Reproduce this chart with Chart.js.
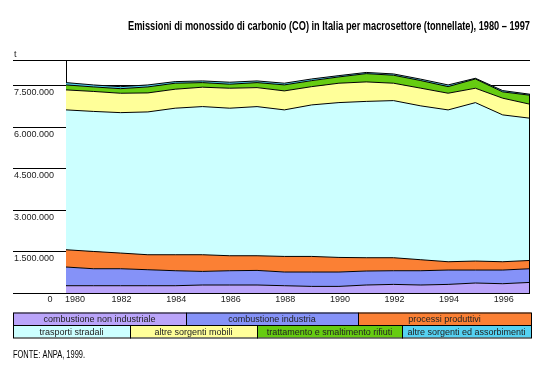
<!DOCTYPE html>
<html>
<head>
<meta charset="utf-8">
<script src="https://cdn.jsdelivr.net/npm/chart.js@4"></script>
<style>
  html, body { margin: 0; padding: 0; background: #fff; }
  #wrap { width: 552px; height: 371px; }
</style>
</head>
<body>
<div id="wrap"><canvas id="co" width="552" height="371"></canvas></div>
<script>
// dati in tonnellate
const years = ['1980', '1981', '1982', '1983', '1984', '1985', '1986', '1987', '1988',
               '1989', '1990', '1991', '1992', '1993', '1994', '1995', '1996', '1997'];
const combNonInd  = [264000, 264000, 264000, 264000, 264000, 289000, 289000, 289000, 264000, 239000, 239000, 289000, 311000, 289000, 311000, 361000, 336000, 383000];
const combInd     = [676000, 614000, 614000, 578000, 542000, 492000, 517000, 528000, 495000, 520000, 520000, 506000, 495000, 517000, 520000, 470000, 495000, 495000];
const processi    = [625000, 625000, 567000, 542000, 578000, 604000, 542000, 531000, 564000, 564000, 528000, 481000, 470000, 398000, 300000, 325000, 300000, 300000];
const trasporti   = [5060000, 5067000, 5081000, 5168000, 5302000, 5360000, 5338000, 5396000, 5302000, 5482000, 5602000, 5656000, 5685000, 5566000, 5493000, 5732000, 5313000, 5146000];
const altreMobili = [723000, 723000, 701000, 687000, 687000, 701000, 723000, 687000, 687000, 661000, 701000, 705000, 629000, 640000, 604000, 520000, 604000, 506000];
const rifiuti     = [181000, 163000, 166000, 217000, 217000, 166000, 145000, 181000, 217000, 217000, 228000, 300000, 289000, 275000, 239000, 336000, 228000, 325000];
const altreAssorb = [83000, 72000, 72000, 72000, 58000, 61000, 72000, 61000, 61000, 61000, 47000, 43000, 47000, 51000, 61000, 25000, 47000, 36000];

const yTicks = [0, 1500000, 3000000, 4500000, 6000000, 7500000];
const yMax = 8430000;

const sectorNames = ['combustione non industriale', 'combustione industria', 'processi produttivi',
                     'trasporti stradali', 'altre sorgenti mobili', 'trattamento e smaltimento rifiuti',
                     'altre sorgenti ed assorbimenti'];
const sectorColors = ['#baa4fa', '#8592f8', '#fb8034', '#ccffff', '#ffff99', '#66cc11', '#55d2f2'];
const series = [combNonInd, combInd, processi, trasporti, altreMobili, rifiuti, altreAssorb];

const title = 'Emissioni di monossido di carbonio (CO) in Italia per macrosettore (tonnellate), 1980 \u2013 1997';
const source = 'FONTE: ANPA, 1999.';

function fmt(v) {
    return String(v).replace(/\B(?=(\d{3})+(?!\d))/g, '.');
}

// testo stretto (il font condensato non c'è): scala orizzontale
function narrowText(ctx, txt, x, y, width, align) {
    const w = ctx.measureText(txt).width;
    const sx = width / w;
    ctx.save();
    ctx.translate(align === 'right' ? x - width : x, y);
    ctx.scale(sx, 1);
    ctx.textAlign = 'left';
    ctx.fillText(txt, 0, 0);
    ctx.restore();
}

// etichette, legenda a tabella e fonte
const extras = {
    id: 'extras',
    afterDraw(chart) {
        const ctx = chart.ctx;
        const x = chart.scales.x, y = chart.scales.y;
        ctx.save();

        // bordo destro dell'area
        let tot = 0;
        series.forEach(s => tot += s[s.length - 1]);
        ctx.strokeStyle = '#000';
        ctx.lineWidth = 1;
        ctx.beginPath();
        ctx.moveTo(x.right - 0.5, y.getPixelForValue(0));
        ctx.lineTo(x.right - 0.5, y.getPixelForValue(tot));
        ctx.stroke();

        // titolo
        ctx.fillStyle = '#000';
        ctx.textBaseline = 'middle';
        ctx.font = 'bold 12px "Liberation Sans", Arial, sans-serif';
        narrowText(ctx, title, x.right, 27, 402, 'right');

        ctx.fillStyle = '#222';
        ctx.font = '9px "Liberation Sans", Arial, sans-serif';
        ctx.textAlign = 'left';
        ctx.fillText('t', 14, y.top - 5);
        yTicks.forEach(v => {
            if (v === 0) return;
            ctx.fillText(fmt(v), 14, y.getPixelForValue(v) + 7);
        });
        ctx.textAlign = 'center';
        ctx.fillText('0', 50, y.bottom + 7);
        years.forEach((yr, i) => {
            if (i % 2) return;
            if (i === 0) {
                ctx.textAlign = 'left';
                ctx.fillText(yr, x.getPixelForValue(i) - 1, y.bottom + 7);
                ctx.textAlign = 'center';
            } else {
                ctx.fillText(yr, x.getPixelForValue(i) + 1, y.bottom + 7);
            }
        });

        // legenda
        const rows = [
            {top: 312.5, h: 12.5, cells: [[0, 13, 186], [1, 186, 358], [2, 358, 531]]},
            {top: 325, h: 12.5, cells: [[3, 13, 130], [4, 130, 257], [5, 257, 402], [6, 402, 531]]}
        ];
        rows.forEach(r => {
            r.cells.forEach(c => {
                const ds = chart.data.datasets[c[0]];
                ctx.fillStyle = ds.backgroundColor;
                ctx.fillRect(c[1], r.top, c[2] - c[1], r.h);
                ctx.strokeStyle = '#000';
                ctx.strokeRect(c[1] + 0.5, r.top + 0.5, c[2] - c[1], r.h);
                ctx.fillStyle = '#222';
                ctx.font = '9px "Liberation Sans", Arial, sans-serif';
                ctx.textAlign = 'center';
                ctx.fillText(ds.label, (c[1] + c[2]) / 2, r.top + r.h / 2 + 1);
            });
        });

        ctx.fillStyle = '#000';
        ctx.font = '10px "Liberation Sans", Arial, sans-serif';
        narrowText(ctx, source, 13, 355, 72, 'left');
        ctx.restore();
    }
};

const datasets = series.map((s, i) => ({
    label: sectorNames[i],
    data: s,
    backgroundColor: sectorColors[i],
    borderColor: '#000',
    borderWidth: 1,
    pointRadius: 0,
    tension: 0,
    fill: i === 0 ? 'origin' : '-1'
}));

new Chart(document.getElementById('co').getContext('2d'), {
    type: 'line',
    data: { labels: years, datasets: datasets },
    options: {
        responsive: false,
        animation: false,
        layout: { padding: { left: 13, right: 22, top: 60, bottom: 0 } },
        plugins: {
            legend: { display: false },
            tooltip: { enabled: false },
            title: { display: false }
        },
        scales: {
            x: {
                offset: false,
                grid: { display: false },
                border: { display: false },
                ticks: { display: false },
                afterFit: s => { s.height = 78; }
            },
            y: {
                stacked: true,
                min: 0,
                max: yMax,
                afterBuildTicks: s => { s.ticks = yTicks.concat([yMax]).map(v => ({ value: v })); },
                ticks: { display: false },
                grid: { color: '#000', lineWidth: 1, drawTicks: true, tickLength: 53, tickColor: '#000' },
                border: { display: true, color: '#000', width: 1 },
                afterFit: s => { s.width = 53; }
            }
        }
    },
    plugins: [extras]
});
</script>
</body>
</html>
